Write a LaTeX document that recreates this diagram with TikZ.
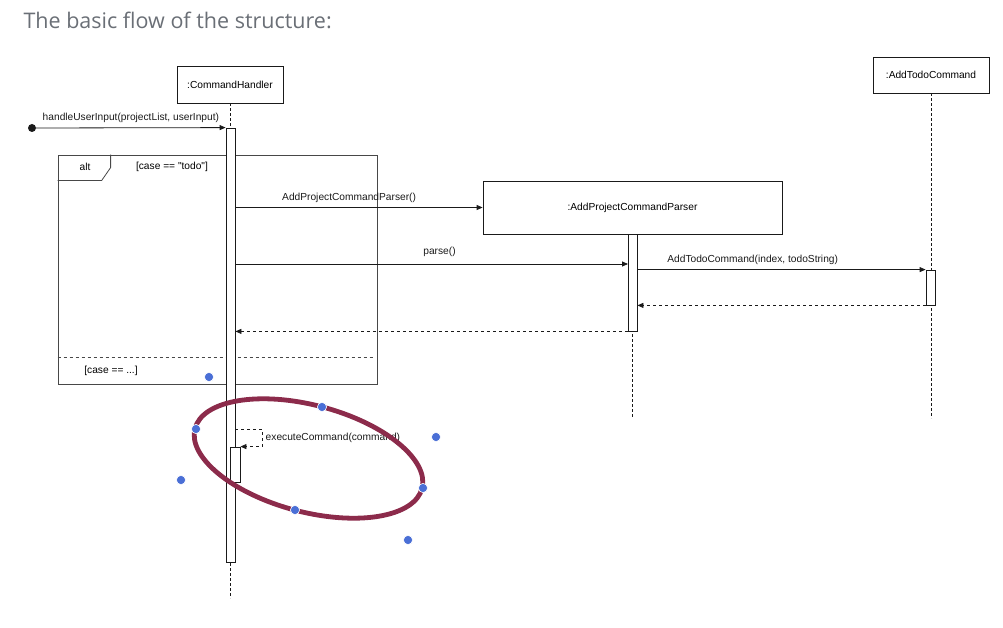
\documentclass[tikz,border=0pt]{standalone}
\usepackage{fontspec}
\usepackage{tikz}
\usetikzlibrary{arrows.meta}
\newfontfamily\labfont{Liberation Sans}
\newfontfamily\titlefont{Open Sans}
\definecolor{ink}{HTML}{1A1A1A}
\definecolor{titlegray}{HTML}{6A6F76}
\definecolor{ring}{HTML}{8C2B4B}
\definecolor{handle}{HTML}{4A6FD6}

\begin{document}
\begin{tikzpicture}[x=1pt,y=-1pt,font=\labfont\fontsize{10.2}{12}\selectfont,
  obj/.style={draw=ink,fill=white,line width=0.8pt,inner sep=0pt},
  bar/.style={draw=ink,fill=white,line width=0.8pt,inner sep=0pt,minimum width=9},
  life/.style={draw=ink,line width=0.7pt,dash pattern=on 2.5pt off 2.5pt},
  msg/.style={-{Triangle[length=6pt,width=5pt]},ink,line width=0.8pt},
  ret/.style={msg,dash pattern=on 3pt off 3pt},
  frm/.style={draw=ink!80,line width=0.8pt,inner sep=0pt}]
\useasboundingbox (0,0) rectangle (1003,628);
\node[anchor=west,text=titlegray,font=\titlefont\fontsize{21.5}{25}\selectfont] (title) at (20,20) {The basic flow of the structure:};
% alt frame
\node[frm,minimum width=319,minimum height=229] (alt) at (217.5,269.5) {};
\draw[frm] (alt.north west) ++(53,0) -- ++(0,13) -- ++(-9,13) -- ++(-44,0);
\node (altlbl) at (85,167) {alt};
\node (g1) at (172,167) {[case == "todo"]};
\draw[frm,dash pattern=on 3pt off 3pt] (alt.south west) ++(0,-27) -- ++(317,0);
\node (g2) at (111,371) {[case == ...]};
% lifelines
\node[obj,minimum width=106,minimum height=37] (ch) at (230,84.5) {:CommandHandler};
\node[obj,minimum width=299,minimum height=53] (pcp) at (632.5,207.5) {:AddProjectCommandParser};
\node[obj,minimum width=116,minimum height=36] (atc) at (931,75) {:AddTodoCommand};
\draw[life] (ch.south) -- ++(0,495);
\draw[life] (pcp.south) -- ++(0,184);
\draw[life] (atc.south) -- ++(0,325);
% activations
\node[bar,minimum height=434] (chBar) at (230.5,345) {};
\node[bar,minimum height=97] (pBar) at (632.5,282.5) {};
\node[bar,minimum height=35] (tBar) at (930.5,287.5) {};
\node[bar,minimum width=10,minimum height=35] (selfBar) at (235,464.5) {};
% messages
\node[circle,fill=ink,inner sep=0pt,minimum size=8] (start) at (32,128) {};
\draw[msg] (start) -- (chBar.north west) node[midway,above=1.5pt] {handleUserInput(projectList, userInput)};
\draw[msg] (chBar.east |- pcp.west) -- (pcp.west) node[pos=.46,above=1.5pt] {AddProjectCommandParser()};
\coordinate (m2) at (628,264);
\draw[msg] (chBar.east |- m2) -- (m2) node[pos=.52,above=4pt] {parse()};
\draw[msg] (pBar.east |- tBar.north west) -- (tBar.north west) node[pos=.40,above=1.5pt] {AddTodoCommand(index, todoString)};
\draw[ret] (tBar.south west) -- (pBar.east |- tBar.south west);
\draw[ret] (pBar.south west) -- (chBar.east |- pBar.south west);
\coordinate (selfOut) at (235,429);
\draw[ret] (selfOut) -- ++(27,0) |- (selfBar.north east) node[pos=.25,right=0pt] {executeCommand(command)};
% selection marks
\draw[ring,line width=4.8pt,rotate around={-14.8:(308.5,458.5)}] (308.5,458.5) ellipse [x radius=117.4,y radius=53.4];
\foreach \p in {(196,429),(322,407),(423,488),(295,510),(209,377),(436,437),(181,480),(408,540)}
  \filldraw[fill=handle,draw=white,line width=0.6pt] \p circle (4.6);
\end{tikzpicture}
\end{document}
